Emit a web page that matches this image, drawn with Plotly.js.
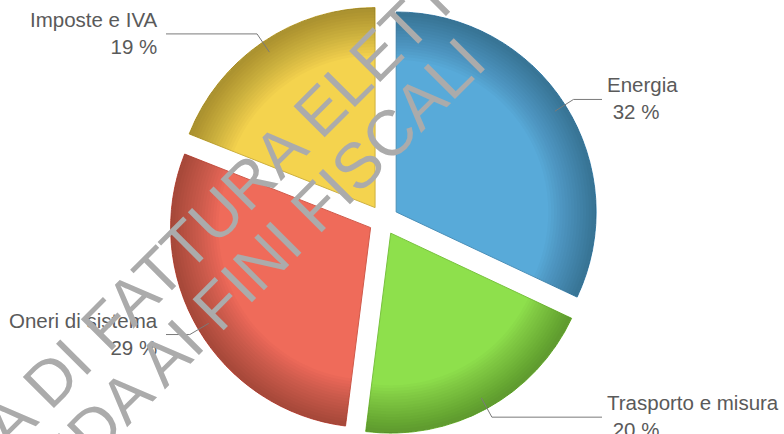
<!DOCTYPE html>
<html>
<head>
<meta charset="utf-8">
<script src="https://cdn.plot.ly/plotly-3.0.1.min.js"></script>
<style>
  html, body { margin: 0; padding: 0; background: #ffffff; overflow: hidden; }
  #chart { width: 784px; height: 436px; }
</style>
</head>
<body>
<div id="chart"></div>
<script>
// ---- data ----
const labels = ['Energia', 'Trasporto e misura', 'Oneri di sistema', 'Imposte e IVA'];
const values = [32, 20, 29, 19];
const colors = ['#58aad9', '#8ee04c', '#ef6b5a', '#f4d34e'];
const edgeColors = ['#4a8fb8', '#78c23e', '#cf5a4b', '#cdb040'];
const watermarkLines = ['COPIA DI FATTURA ELETTRONICA', 'NON VALIDA AI FINI FISCALI'];

// ---- layout constants ----
const W = 784, H = 436;
const M = { l: 0, r: 17, t: 5, b: 1 };
const pull = 0.075;
const pw = W - M.l - M.r, ph = H - M.t - M.b;
const cx = M.l + pw / 2, cy = M.t + ph / 2;
const R = Math.min(pw, ph) / (2 + 2 * pull);
const px2x = p => (p - M.l) / pw;
const py2y = p => 1 - (p - M.t) / ph;

const total = values.reduce((a, b) => a + b, 0);
const pulls = values.map(() => pull);

const traces = [{
  type: 'pie',
  labels: labels,
  values: values,
  sort: false,
  direction: 'clockwise',
  rotation: 0,
  pull: pulls,
  marker: { colors: colors, line: { color: edgeColors, width: 1 } },
  textinfo: 'none',
  hoverinfo: 'skip',
  showlegend: false
}];

// smooth rim shading: many thin translucent rings with the same geometry
for (let k = 0; k < 16; k++) {
  traces.push({
    type: 'pie',
    labels: labels,
    values: values,
    sort: false,
    direction: 'clockwise',
    rotation: 0,
    pull: pulls,
    hole: 0.76 + k * 0.0145,
    marker: { colors: values.map(() => 'rgba(0,0,0,0.021)'), line: { width: 0 } },
    textinfo: 'none',
    hoverinfo: 'skip',
    showlegend: false
  });
}

// ---- labels with leader lines, computed from slice angles ----
const shapes = [];
const annotations = [];
let cum = 0;
values.forEach((v, i) => {
  const mid = ((cum + v / 2) / total) * 2 * Math.PI;
  cum += v;
  const dx = Math.sin(mid), dy = -Math.cos(mid);
  const sx = cx + pull * R * dx, sy = cy + pull * R * dy;
  const p1 = [sx + 0.94 * R * dx, sy + 0.94 * R * dy];
  const knee = [sx + 1.05 * R * dx, sy + 1.05 * R * dy];
  const right = dx > 0;
  const p3 = [right ? 602 : 166, knee[1]];
  shapes.push({
    type: 'path', xref: 'paper', yref: 'paper',
    path: 'M' + px2x(p1[0]) + ',' + py2y(p1[1]) +
          'L' + px2x(knee[0]) + ',' + py2y(knee[1]) +
          'L' + px2x(p3[0]) + ',' + py2y(p3[1]),
    line: { color: '#7a7a7a', width: 1 }
  });
  const pct = Math.round(v / total * 100) + ' %';
  annotations.push({
    xref: 'paper', yref: 'paper',
    x: px2x(right ? 605 : 160), y: py2y(knee[1] - 1),
    xanchor: right ? 'left' : 'right', yanchor: 'middle',
    align: right ? 'left' : 'right',
    text: labels[i] + '<br>&nbsp;' + pct,
    showarrow: false,
    font: { family: 'Arial, "Liberation Sans", sans-serif', size: 20.5, color: '#5a5a5a' }
  });
});

// ---- watermark ----
const wmCenters = [[253, 178], [172, 351]];
watermarkLines.forEach((t, i) => {
  annotations.push({
    xref: 'paper', yref: 'paper',
    x: px2x(wmCenters[i][0]), y: py2y(wmCenters[i][1]),
    xanchor: 'center', yanchor: 'middle',
    text: t, textangle: -45, showarrow: false,
    font: { family: 'Arial, "Liberation Sans", sans-serif', size: 64, color: '#ababab' }
  });
});

const layout = {
  width: W, height: H,
  margin: M,
  paper_bgcolor: '#ffffff',
  plot_bgcolor: '#ffffff',
  showlegend: false,
  shapes: shapes,
  annotations: annotations
};

Plotly.newPlot('chart', traces, layout, { staticPlot: true, displayModeBar: false });
</script>
</body>
</html>
